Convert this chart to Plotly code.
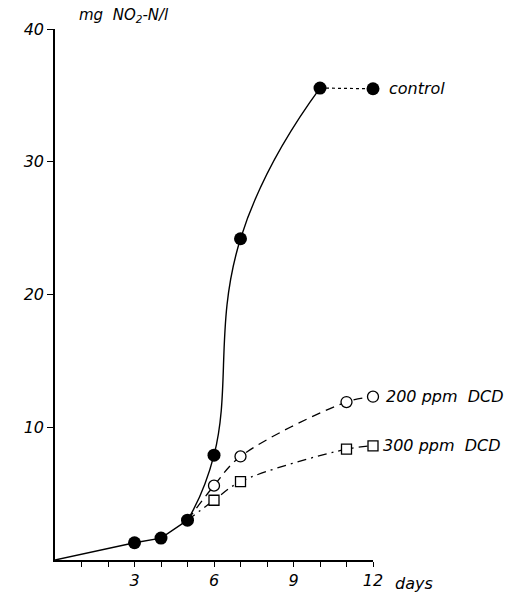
import plotly.graph_objects as go

# ---- data ----
control_days = [0, 3, 4, 5, 6, 7, 10]
control_vals = [0, 1.3, 1.65, 3.0, 7.9, 24.2, 35.55]
control_tail_days = [10, 12]
control_tail_vals = [35.55, 35.5]

dcd200_days = [5, 6, 7, 11, 12]
dcd200_vals = [3.0, 5.6, 7.8, 11.9, 12.3]

dcd300_days = [5, 6, 7, 11, 12]
dcd300_vals = [3.0, 4.5, 5.9, 8.35, 8.6]

x_tick_vals = list(range(1, 13))
x_tick_text = ["", "", "3", "", "", "6", "", "", "9", "", "", "12"]
y_tick_vals = [10, 20, 30, 40]
y_tick_text = ["10", "20", "30", "40"]

FONT = "DejaVu Sans"

fig = go.Figure()

# control: straight start (0..5), smooth rise (5..10), dotted plateau (10..12)
k = control_days.index(5)
fig.add_trace(go.Scatter(x=control_days[:k + 1], y=control_vals[:k + 1], mode="lines",
                         line=dict(color="black", width=1.4),
                         hoverinfo="skip", cliponaxis=False))
fig.add_trace(go.Scatter(x=control_days[k:], y=control_vals[k:], mode="lines",
                         line=dict(color="black", width=1.4, shape="spline", smoothing=1.3),
                         hoverinfo="skip", cliponaxis=False))
fig.add_trace(go.Scatter(x=control_tail_days, y=control_tail_vals, mode="lines",
                         line=dict(color="black", width=1.2, dash="dot"),
                         hoverinfo="skip", cliponaxis=False))
fig.add_trace(go.Scatter(x=dcd200_days, y=dcd200_vals, mode="lines",
                         line=dict(color="black", width=1.3, shape="spline", dash="9px,6px"),
                         hoverinfo="skip", cliponaxis=False))
fig.add_trace(go.Scatter(x=dcd300_days, y=dcd300_vals, mode="lines",
                         line=dict(color="black", width=1.3, shape="spline", dash="9px,5px,2px,5px"),
                         hoverinfo="skip", cliponaxis=False))

# markers
fig.add_trace(go.Scatter(x=control_days[1:] + control_tail_days[1:],
                         y=control_vals[1:] + control_tail_vals[1:], mode="markers",
                         marker=dict(symbol="circle", size=13, color="black"),
                         hoverinfo="skip", cliponaxis=False))
fig.add_trace(go.Scatter(x=dcd200_days[1:], y=dcd200_vals[1:], mode="markers",
                         marker=dict(symbol="circle", size=11, color="white",
                                     line=dict(color="black", width=1.3)),
                         hoverinfo="skip", cliponaxis=False))
fig.add_trace(go.Scatter(x=dcd300_days[1:], y=dcd300_vals[1:], mode="markers",
                         marker=dict(symbol="square", size=10, color="white",
                                     line=dict(color="black", width=1.3)),
                         hoverinfo="skip", cliponaxis=False))

# series labels
labels = [("control", control_tail_days[-1], control_tail_vals[-1], 14),
          ("200 ppm  DCD", dcd200_days[-1], dcd200_vals[-1], 11),
          ("300 ppm  DCD", dcd300_days[-1], dcd300_vals[-1], 8)]
for txt, xx, yy, sh in labels:
    fig.add_annotation(x=xx, y=yy, text=txt, xref="x", yref="y",
                       showarrow=False, xanchor="left", xshift=sh,
                       font=dict(family=FONT, size=16, color="black", style="italic"))

# axis titles
fig.add_annotation(x=0.07, y=1.0, xref="paper", yref="paper",
                   text="mg  NO<sub>2</sub>-N/l", showarrow=False,
                   xanchor="left", yanchor="bottom", yshift=2,
                   font=dict(family=FONT, size=15, color="black", style="italic"))
fig.add_annotation(x=12, y=0, xref="x", yref="paper",
                   text="days", showarrow=False, xanchor="left", yanchor="top",
                   xshift=20, yshift=-12,
                   font=dict(family=FONT, size=16, color="black", style="italic"))

fig.update_layout(
    width=523, height=592,
    margin=dict(l=55, r=150, t=29, b=32),
    paper_bgcolor="white", plot_bgcolor="white",
    showlegend=False,
    font=dict(family=FONT, size=16, color="black"),
)
fig.update_xaxes(range=[0, 12], showgrid=False, zeroline=False, automargin=False,
                 showline=True, linecolor="black", linewidth=1.5,
                 ticks="outside", ticklen=5, tickwidth=1.2, tickcolor="black",
                 tickvals=x_tick_vals, ticktext=x_tick_text,
                 tickfont=dict(family=FONT, size=16, style="italic"))
fig.update_yaxes(range=[0, 40], showgrid=False, zeroline=False, automargin=False,
                 showline=True, linecolor="black", linewidth=1.5,
                 ticks="outside", ticklen=6, tickwidth=1.2, tickcolor="black",
                 tickvals=y_tick_vals, ticktext=y_tick_text,
                 tickfont=dict(family=FONT, size=16, style="italic"))

fig.write_html("out.html", config={"displayModeBar": False},
               post_script="document.body.style.margin='0';document.body.style.overflow='hidden';")
